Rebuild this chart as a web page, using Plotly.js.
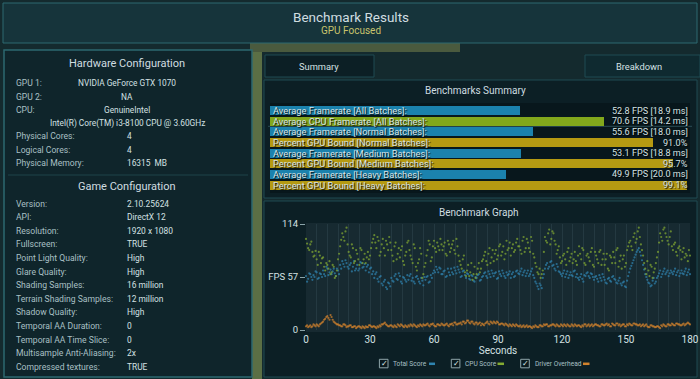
<!DOCTYPE html>
<html><head><meta charset="utf-8">
<script src="https://cdn.plot.ly/plotly-3.0.1.min.js"></script>
<style>html,body{margin:0;padding:0;background:#13282c;overflow:hidden}#chart{width:700px;height:379px}</style>
</head><body><div id="chart"></div><script>
// ---------- DATA ----------
const hardwareLabels = ['GPU 1:', 'GPU 2:', 'CPU:', '', 'Physical Cores:', 'Logical Cores:', 'Physical Memory:'];
const hardwareValues = ['NVIDIA GeForce GTX 1070', 'NA', 'GenuineIntel', 'Intel(R) Core(TM) i3-8100 CPU @ 3.60GHz', '4', '4', '16315  MB'];
const gameLabels = ['Version:', 'API:', 'Resolution:', 'Fullscreen:', 'Point Light Quality:', 'Glare Quality:', 'Shading Samples:', 'Terrain Shading Samples:', 'Shadow Quality:', 'Temporal AA Duration:', 'Temporal AA Time Slice:', 'Multisample Anti-Aliasing:', 'Compressed textures:'];
const gameValues = ['2.10.25624', 'DirectX 12', '1920 x 1080', 'TRUE', 'High', 'High', '16 million', '12 million', 'High', '0', '0', '2x', 'TRUE'];

const summaryLabels = ['Average Framerate [All Batches]:', 'Average CPU Framerate [All Batches]:', 'Average Framerate [Normal Batches]:', 'Percent GPU Bound [Normal Batches]:', 'Average Framerate [Medium Batches]:', 'Percent GPU Bound [Medium Batches]:', 'Average Framerate [Heavy Batches]:', 'Percent GPU Bound [Heavy Batches]:'];
const summaryValues = [52.8, 70.6, 55.6, 91.0, 53.1, 95.7, 49.9, 99.1];
const summaryKinds = ['fps', 'cpu', 'fps', 'pct', 'fps', 'pct', 'fps', 'pct'];
const summaryReadouts = ['52.8 FPS [18.9 ms]', '70.6 FPS [14.2 ms]', '55.6 FPS [18.0 ms]', '91.0%', '53.1 FPS [18.8 ms]', '95.7%', '49.9 FPS [20.0 ms]', '99.1%'];

const graphTickVals = [0, 57, 114];
const graphTickText = ['0', 'FPS 57', '114'];
const secondsTicks = [0, 30, 60, 90, 120, 150, 180];

// readings on the whole second, 0..180 s
const totalScore = [
 58,55,60,54, 57,62,56,60, 64,58,66,62, 60,66,58,64, 70,74,68,72, 66,72,68,64, 70,66,72,68, 64,70,66,60,
 56,62,52,58, 48,54,44,50, 56,52,60,54, 58,50,56,52, 54,60,56,50, 58,52,56,48, 54,58,52,56, 64,68,62,66,
 60,64,58,62, 66,60,64,68, 62,58,64,56, 60,54,58,52, 56,60,54,58, 62,56,60,64, 58,62,56,60, 64,58,62,60,
 56,62,58,64, 60,66,62,58, 64,60,66,56, 50,44,48,56, 66,72,68,74, 70,64,68,62, 58,64,60,56, 62,58,64,60,
 54,60,52,58, 62,56,60,54, 58,52,56,60, 54,50,56,52, 58,54,50,56, 48,52,46,58, 66,72,78,84, 88,80,70,60,
 54,50,48,56, 52,58,64,60, 66,62,58,64, 60,66,62,58, 64,60,66,62, 60];
const cpuScore = [
 98,88,92,84, 80,76,84,72, 78,64,70,74, 62,68,58,76, 90,104,96,110, 84,78,88,74, 82,70,86,76, 72,84,80,94,
 102,88,96,84, 98,80,92,100, 86,74,94,82, 78,90,70,84, 96,80,72,88, 64,76,82,60, 72,86,92,78, 96,84,90,98,
 86,94,80,92, 88,96,82,90, 74,66,80,58, 70,62,54,68, 60,72,66,76, 84,70,88,78, 74,86,80,92, 84,76,96,88,
 80,92,86,98, 90,82,100,88, 94,84,96,78, 68,60,56,64, 100,94,108,98, 104,92,86,78, 74,82,70,88, 78,72,84,70,
 90,76,86,70, 82,74,88,68, 80,72,86,76, 70,82,64,78, 84,72,88,74, 66,80,72,90, 96,86,104,98, 110,92,80,66,
 74,58,68,62, 72,84,104,96, 110,100,92,106, 86,94,80,90, 76,88,82,74, 80];
const driverOverhead = [
 4,3,5,4, 5,6,4,7, 9,12,15,11, 14,9,7,6, 5,4,6,3, 4,5,3,4, 3,4,2,3, 4,3,5,3,
 4,2,3,4, 6,8,5,4, 5,3,4,6, 4,5,3,4, 5,6,4,5, 3,4,5,6, 5,7,4,6, 5,4,6,5,
 6,5,7,4, 6,5,8,6, 7,6,9,8, 10,7,9,6, 8,7,5,6, 7,9,6,8, 9,7,8,6, 7,5,6,4,
 5,6,4,5, 4,3,5,4, 3,4,2,3, 4,3,5,4, 5,6,4,5, 6,4,5,4, 5,6,4,5, 4,5,6,4,
 5,3,4,6, 5,4,6,5, 6,5,4,6, 5,7,6,4, 6,5,7,6, 5,6,4,5, 6,5,7,6, 5,4,6,5,
 4,3,5,4, 3,4,2,4, 5,4,6,5, 6,5,7,6, 5,7,6,8, 6];
// readings on the half second, 0.5..179.5 s
const totalScoreHalf = [
 52,61,57,59, 63,55,61,57, 60,68,59,65, 63,61,66,60, 66,71,75,68, 70,63,74,66, 64,73,67,71, 68,62,67,63,
 60,55,57,50, 52,46,51,47, 53,58,55,61, 52,57,54,59, 58,53,52,57, 55,50,53,57, 57,51,59,61, 62,65,67,60,
 63,57,66,59, 62,67,61,65, 57,63,59,61, 55,59,53,57, 59,53,57,61, 58,63,57,61, 61,55,63,58, 61,56,59,63,
 60,57,63,61, 63,59,64,61, 58,63,59,52, 47,50,45,60, 70,66,73,69, 66,71,63,60, 61,57,63,59, 59,63,57,56,
 57,55,59,61, 58,61,57,57, 55,59,53,57, 51,55,53,57, 55,51,53,50, 51,47,53,62, 69,75,81,86, 84,75,65,57,
 51,47,53,50, 56,61,57,63, 60,64,61,62, 63,59,64,61, 61,63,59,65];
const cpuScoreHalf = [
 93,86,95,79, 85,70,80,77, 68,72,66,60, 70,56,64,82, 97,100,106,92, 80,92,72,86, 76,88,72,82, 78,76,88,98,
 94,100,80,92, 88,96,86,94, 80,90,76,88, 86,74,80,94, 86,76,92,68, 72,88,56,68, 80,96,74,90, 88,94,86,92,
 90,82,96,84, 92,86,98,80, 70,76,62,64, 58,72,60,56, 66,62,74,80, 74,82,72,86, 82,76,90,80, 90,82,86,94,
 88,84,94,90, 86,96,84,98, 88,100,82,72, 62,66,60,84, 96,104,92,106, 96,82,90,72, 80,76,84,74, 82,76,74,80,
 82,88,72,80, 78,84,70,84, 76,84,70,82, 76,66,80,72, 78,86,68,80, 76,68,86,94, 90,100,94,106, 100,86,72,60,
 64,70,56,66, 78,94,100,108, 104,96,100,90, 92,84,88,86, 84,78,80,86];
const driverOverheadHalf = [
 5,4,3,6, 4,5,6,8, 11,14,13,16, 11,8,6,5, 4,6,5,4, 5,3,4,2, 4,3,4,2, 3,5,4,4,
 3,4,5,6, 7,6,4,5, 4,5,3,5, 6,4,5,3, 4,5,6,4, 5,6,4,5, 6,5,6,7, 4,6,5,7,
 5,6,5,6, 7,8,6,7, 8,9,7,10, 8,9,7,8, 6,8,7,5, 8,7,9,7, 8,9,6,7, 6,7,5,6,
 4,5,6,4, 5,4,3,5, 4,3,4,5, 3,5,4,6, 6,4,5,6, 5,6,4,6, 4,5,6,4, 6,4,5,5,
 4,5,6,4, 6,5,4,6, 5,4,6,5, 6,5,4,7, 5,7,5,4, 6,4,6,7, 5,7,6,5, 6,5,4,6,
 3,5,4,3, 4,3,5,6, 4,6,5,7, 5,7,6,5, 6,5,7,7];

// ---------- STYLE ----------
const W = 700, H = 379;
const FONT = 'Roboto, "DejaVu Sans", sans-serif';
const C = {
  blue: '#1b82ad', green: '#82a81c', gold: '#b59a12',
  dotBlue: '#2f84b0', dotGreen: '#84ab32', dotOrange: '#d2822c',
  label: '#a9c0c5', value: '#d4e1e3', head: '#cfdde0', accent: '#c8c36c',
  border: '#2c6870', panel: '#0f252b', panel2: '#0c1f25', bar: '#08171c'
};
const kindColor = {fps: C.blue, cpu: C.green, pct: C.gold};
const px = x => x / W, py = y => 1 - y / H;

function rect(x0, y0, x1, y1, fill, line, lw) {
  return {type: 'rect', xref: 'paper', yref: 'paper', x0: px(x0), x1: px(x1), y0: py(y1), y1: py(y0),
    fillcolor: fill, line: {color: line || 'rgba(0,0,0,0)', width: lw === undefined ? 1 : lw}, layer: 'below'};
}
function hline(x0, x1, y, color, lw) {
  return {type: 'line', xref: 'paper', yref: 'paper', x0: px(x0), x1: px(x1), y0: py(y), y1: py(y),
    line: {color: color, width: lw || 1}, layer: 'below'};
}
function txt(text, x, y, size, color, anchor, extra) {
  return Object.assign({text: text, xref: 'paper', yref: 'paper', x: px(x), y: py(y), xanchor: anchor || 'left',
    yanchor: 'middle', showarrow: false, font: {family: FONT, size: size, color: color}}, extra || {});
}

const shapes = [];
const annotations = [];

// background (image behind the panels)
shapes.push(rect(0, 0, W, H, '#142a2e', null, 0));
shapes.push(rect(252, 45, 262, 379, '#5b6f45', null, 0));
shapes.push(rect(250, 42, 460, 52, '#4a5a3e', null, 0));
// title bar
shapes.push(rect(3, 3, 697, 43, '#16343b', C.border, 1));
annotations.push(txt('Benchmark Results', 351, 17, 13.5, C.head, 'center'));
annotations.push(txt('GPU Focused', 351, 30.5, 10, C.accent, 'center'));

// left panel
shapes.push(rect(4, 50, 252, 377, C.panel, C.border, 1.5));
shapes.push(hline(8, 248, 175, '#1f444b', 1));
annotations.push(txt('Hardware Configuration', 127, 64, 11, C.head, 'center'));
const hwY = [83, 97, 110, 123, 136, 149.5, 163];
hardwareLabels.forEach((l, i) => {
  if (l) annotations.push(txt(l, 14, hwY[i], 8.6, C.label, 'left'));
  if (i < 4) annotations.push(txt(hardwareValues[i], 127, hwY[i], 8.3, C.value, 'center'));
  else annotations.push(txt(hardwareValues[i], 125, hwY[i], 8.3, C.value, 'left'));
});
annotations.push(txt('Game Configuration', 127, 186, 11, C.head, 'center'));
gameLabels.forEach((l, i) => {
  const y = 203.5 + i * 13.6;
  annotations.push(txt(l, 14, y, 8.6, C.label, 'left'));
  annotations.push(txt(gameValues[i], 125, y, 8.4, C.value, 'left'));
});

// tabs
shapes.push(rect(265, 55, 374, 77, '#0c1f25', '#1f4a52', 1));
shapes.push(rect(585, 55, 700, 77, '#0f2a30', '#1f4a52', 1));
annotations.push(txt('Summary', 319, 66, 9.3, C.value, 'center'));
annotations.push(txt('Breakdown', 639, 66, 9.3, C.value, 'center'));

// summary panel
shapes.push(rect(264, 80, 697, 198, C.panel2, '#1f4a52', 1));
annotations.push(txt('Benchmarks Summary', 475, 91, 10, C.head, 'center'));
shapes.push(rect(270, 103, 690, 193, C.bar, null, 0));
shapes.push(hline(268, 692, 126.3, '#2b4d55', 1));

// graph panel
shapes.push(rect(264, 201, 697, 377, C.panel2, '#1f4a52', 1));
annotations.push(txt('Benchmark Graph', 479, 212, 10, C.head, 'center'));
shapes.push(rect(306, 223, 690, 332, '#172a31', null, 0));

// legend (checkbox, name, colour dash)
const legendItems = [
  {name: 'Total Score', box: 383.7, text: 390.5, dash: [429, 435], color: C.dotBlue},
  {name: 'CPU Score', box: 455.6, text: 462.5, dash: [497.5, 504], color: C.dotGreen},
  {name: 'Driver Overhead', box: 525, text: 532.5, dash: [583, 589.5], color: C.dotOrange}
];
legendItems.forEach(it => {
  shapes.push(Object.assign(rect(it.box - 4.3, 359.3, it.box + 4.3, 367.8, '#0b1a1f', '#8fa6aa', 1), {layer: 'above'}));
  annotations.push(txt('✓', it.box + 0.5, 363.3, 8, '#dfe9ea', 'center'));
  annotations.push(txt(it.name, it.text, 363.5, 6.6, C.label, 'left'));
  shapes.push(Object.assign(hline(it.dash[0], it.dash[1], 363.8, it.color, 2.5), {layer: 'above'}));
});

// ---------- SUMMARY BARS ----------
const fpsIdx = summaryKinds.map((k, i) => k !== 'pct' ? i : -1).filter(i => i >= 0);
const pctIdx = summaryKinds.map((k, i) => k === 'pct' ? i : -1).filter(i => i >= 0);
const fpsTrace = {
  type: 'bar', orientation: 'h', xaxis: 'x', yaxis: 'y', width: 0.86,
  y: fpsIdx.map(i => summaryLabels[i]), x: fpsIdx.map(i => summaryValues[i]),
  marker: {color: fpsIdx.map(i => kindColor[summaryKinds[i]]), line: {width: 0}},
  hoverinfo: 'skip', showlegend: false
};
const pctTrace = {
  type: 'bar', orientation: 'h', xaxis: 'x3', yaxis: 'y', width: 0.86,
  y: pctIdx.map(i => summaryLabels[i]), x: pctIdx.map(i => summaryValues[i]),
  marker: {color: pctIdx.map(i => kindColor[summaryKinds[i]]), line: {width: 0}},
  hoverinfo: 'skip', showlegend: false
};
summaryLabels.forEach((l, i) => {
  annotations.push({text: l, xref: summaryKinds[i] === 'pct' ? 'x3' : 'x', yref: 'y', x: 0, y: l,
    xanchor: 'left', yanchor: 'middle', xshift: 1, showarrow: false,
    font: {family: FONT, size: 9.3, color: '#d8e4e6', shadow: '1px 1px 1px #000'}});
  annotations.push({text: summaryReadouts[i], xref: 'paper', yref: 'y', x: px(690), y: l,
    xanchor: 'right', yanchor: 'middle', showarrow: false,
    font: {family: FONT, size: 9.1, color: C.value, shadow: '1px 1px 1px #000'}});
});

// ---------- GRAPH ----------
const seconds = totalScore.map((_, i) => i);
const halfSeconds = totalScoreHalf.map((_, i) => i + 0.5);
function dots(xs, vals, color, name) {
  return {type: 'scatter', mode: 'markers', xaxis: 'x2', yaxis: 'y2', x: xs, y: vals, name: name,
    marker: {color: color, size: 2.2, opacity: 0.72}, hoverinfo: 'skip', showlegend: false, cliponaxis: false};
}

const layout = {
  width: W, height: H, margin: {l: 0, r: 0, t: 0, b: 0},
  paper_bgcolor: '#142a2e', plot_bgcolor: 'rgba(0,0,0,0)',
  font: {family: FONT, color: C.label},
  showlegend: false, bargap: 0,
  xaxis: {domain: [px(270), px(691)], range: [0, 89], visible: false, fixedrange: true, anchor: 'y'},
  xaxis3: {domain: [px(270), px(691)], range: [0, 100], visible: false, overlaying: 'x', anchor: 'y'},
  yaxis: {domain: [py(192.6), py(103.1)], type: 'category', categoryorder: 'array', categoryarray: summaryLabels,
    autorange: 'reversed', visible: false, anchor: 'x'},
  xaxis2: {domain: [px(306), px(690)], range: [0, 180], anchor: 'y2', tickvals: secondsTicks,
    ticks: '', tickfont: {family: FONT, size: 10, color: C.value}, ticklabelstandoff: 2,
    showgrid: false, zeroline: false, showline: false,
    minor: {dtick: 5, showgrid: true, gridcolor: 'rgba(120,150,160,0.14)', gridwidth: 1},
    title: {text: 'Seconds', font: {family: FONT, size: 10, color: C.value}, standoff: 2}},
  yaxis2: {domain: [py(330), py(224)], range: [0, 114], anchor: 'x2', tickvals: graphTickVals, ticktext: graphTickText,
    ticks: 'outside', ticklen: 5, tickcolor: '#8aa3a8', tickfont: {family: FONT, size: 9.5, color: C.value},
    showgrid: false, zeroline: false, showline: false},
  shapes: shapes, annotations: annotations
};

Plotly.newPlot('chart', [fpsTrace, pctTrace,
  dots(seconds, totalScore, C.dotBlue, 'Total Score'),
  dots(halfSeconds, totalScoreHalf, C.dotBlue, 'Total Score'),
  dots(seconds, cpuScore, C.dotGreen, 'CPU Score'),
  dots(halfSeconds, cpuScoreHalf, C.dotGreen, 'CPU Score'),
  dots(seconds, driverOverhead, C.dotOrange, 'Driver Overhead'),
  dots(halfSeconds, driverOverheadHalf, C.dotOrange, 'Driver Overhead')], layout, {staticPlot: true, displayModeBar: false});
</script></body></html>
